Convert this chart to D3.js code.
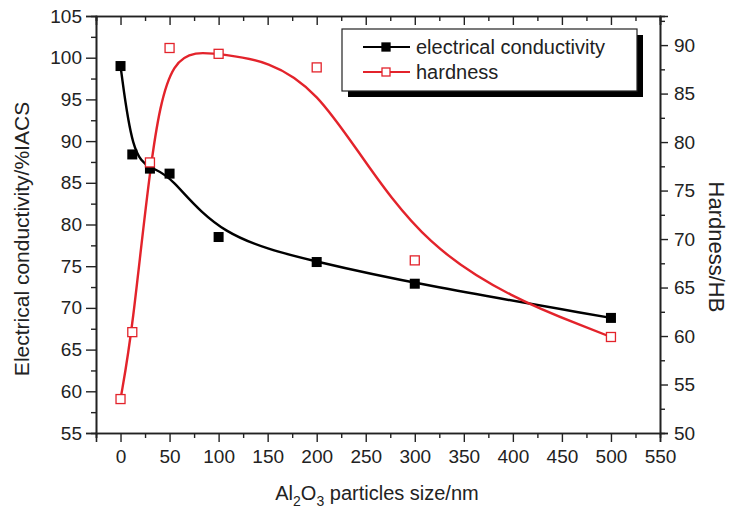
<!DOCTYPE html>
<html>
<head>
<meta charset="utf-8">
<script src="https://cdn.jsdelivr.net/npm/d3@7"></script>
<style>
  body { margin: 0; background: #fff; }
  svg { font-family: "Liberation Sans", Arial, sans-serif; }
</style>
</head>
<body>
<svg id="chart" width="730" height="510"></svg>
<script>
// ---- data ----
const sizes = [0, 12, 30, 50, 100, 200, 300, 500];
const conductivity = [99.0, 88.4, 86.7, 86.1, 78.5, 75.5, 72.9, 68.8];
const hardness = [53.5, 60.4, 77.9, 89.7, 89.1, 87.7, 67.8, 59.9];
const xTicks = [0, 50, 100, 150, 200, 250, 300, 350, 400, 450, 500, 550];
const leftTicks = [55, 60, 65, 70, 75, 80, 85, 90, 95, 100, 105];
const rightTicks = [50, 55, 60, 65, 70, 75, 80, 85, 90];
const seriesNames = ["electrical conductivity", "hardness"];

const RED = "#e3232b";
const svg = d3.select("#chart");
const L = 96, R = 660, T = 16, B = 433;

const x = d3.scaleLinear().domain([-25, 550]).range([L, R]);
const yL = d3.scaleLinear().domain([55, 105]).range([B, T]);
const yR = d3.scaleLinear().domain([50, 93]).range([B, T]);

const fs = 19;
function styleAxis(g) {
  g.selectAll("path.domain").attr("stroke", "#222").attr("stroke-width", 1.6);
  g.selectAll(".tick line").attr("stroke", "#222").attr("stroke-width", 1.4);
  g.selectAll(".tick text").attr("fill", "#222").attr("font-size", fs)
    .attr("font-family", "Liberation Sans, Arial, sans-serif");
}

// minor ticks
const xMinor = d3.range(-25, 551, 25).filter(v => v % 50 !== 0);
const lMinor = d3.range(57.5, 105, 5);
const rMinor = d3.range(52.5, 93, 5);

// bottom axis
svg.append("g").attr("transform", `translate(0,${B})`)
  .call(d3.axisBottom(x).tickValues(xMinor).tickSize(5).tickFormat(""))
  .call(styleAxis);
svg.append("g").attr("transform", `translate(0,${B})`)
  .call(d3.axisBottom(x).tickValues(xTicks).tickSize(9).tickPadding(8).tickFormat(d3.format("d")))
  .call(styleAxis);
// top axis (inward ticks)
svg.append("g").attr("transform", `translate(0,${T})`)
  .call(d3.axisBottom(x).tickValues(xMinor).tickSize(5).tickFormat(""))
  .call(styleAxis);
svg.append("g").attr("transform", `translate(0,${T})`)
  .call(d3.axisBottom(x).tickValues(xTicks).tickSize(9).tickFormat(""))
  .call(styleAxis);
// left axis
svg.append("g").attr("transform", `translate(${L},0)`)
  .call(d3.axisLeft(yL).tickValues(lMinor).tickSize(5).tickFormat(""))
  .call(styleAxis);
svg.append("g").attr("transform", `translate(${L},0)`)
  .call(d3.axisLeft(yL).tickValues(leftTicks).tickSize(10).tickPadding(4).tickFormat(d3.format("d")))
  .call(styleAxis);
// right axis
svg.append("g").attr("transform", `translate(${R},0)`)
  .call(d3.axisRight(yR).tickValues(rMinor).tickSize(5).tickFormat(""))
  .call(styleAxis);
svg.append("g").attr("transform", `translate(${R},0)`)
  .call(d3.axisRight(yR).tickValues(rightTicks).tickSize(8).tickPadding(6).tickFormat(d3.format("d")))
  .call(styleAxis);

// curves
const cData = sizes.map((s, i) => [s, conductivity[i]]);
const hData = sizes.map((s, i) => [s, hardness[i]]);
svg.append("path").datum(cData)
  .attr("fill", "none").attr("stroke", "#000").attr("stroke-width", 2.4)
  .attr("d", d3.line().x(d => x(d[0])).y(d => yL(d[1])).curve(d3.curveBasis));
svg.append("path").datum(hData)
  .attr("fill", "none").attr("stroke", RED).attr("stroke-width", 2.4)
  .attr("d", d3.line().x(d => x(d[0])).y(d => yR(d[1])).curve(d3.curveBasis));

const ms = 10;
svg.append("g").selectAll("rect").data(cData).join("rect")
  .attr("x", d => x(d[0]) - ms / 2).attr("y", d => yL(d[1]) - ms / 2)
  .attr("width", ms).attr("height", ms).attr("fill", "#000");
svg.append("g").selectAll("rect").data(hData).join("rect")
  .attr("x", d => x(d[0]) - ms / 2 + 0.5).attr("y", d => yR(d[1]) - ms / 2 + 0.5)
  .attr("width", ms - 1).attr("height", ms - 1)
  .attr("fill", "#fff").attr("stroke", RED).attr("stroke-width", 1.3);

// legend
const lg = svg.append("g");
lg.append("rect").attr("x", 348).attr("y", 35).attr("width", 295).attr("height", 62).attr("fill", "#000");
lg.append("rect").attr("x", 342).attr("y", 29).attr("width", 295).attr("height", 62)
  .attr("fill", "#fff").attr("stroke", "#222").attr("stroke-width", 1.2);
const rows = [{ name: seriesNames[0], color: "#000", fill: "#000", y: 47 },
              { name: seriesNames[1], color: RED, fill: "#fff", y: 72 }];
rows.forEach(r => {
  lg.append("line").attr("x1", 363).attr("x2", 410).attr("y1", r.y).attr("y2", r.y)
    .attr("stroke", r.color).attr("stroke-width", 2.2);
  lg.append("rect").attr("x", 386 - 4).attr("y", r.y - 4).attr("width", 8).attr("height", 8)
    .attr("fill", r.fill).attr("stroke", r.color).attr("stroke-width", 1.3);
  lg.append("text").attr("x", 416).attr("y", r.y).attr("dy", "0.35em")
    .attr("font-size", 20).attr("fill", "#222").text(r.name);
});

// axis titles
svg.append("text").attr("transform", `translate(29,239) rotate(-90)`)
  .attr("text-anchor", "middle").attr("font-size", 21).attr("fill", "#222")
  .text("Electrical conductivity/%IACS");
svg.append("text").attr("transform", `translate(709,247) rotate(90)`)
  .attr("text-anchor", "middle").attr("font-size", 22).attr("fill", "#222")
  .text("Hardness/HB");
const xt = svg.append("text").attr("x", 377).attr("y", 500)
  .attr("text-anchor", "middle").attr("font-size", 20).attr("fill", "#222");
xt.append("tspan").text("Al");
xt.append("tspan").attr("font-size", 14).attr("dy", 6).text("2");
xt.append("tspan").attr("dy", -6).text("O");
xt.append("tspan").attr("font-size", 14).attr("dy", 6).text("3");
xt.append("tspan").attr("dy", -6).text(" particles size/nm");
</script>
</body>
</html>
